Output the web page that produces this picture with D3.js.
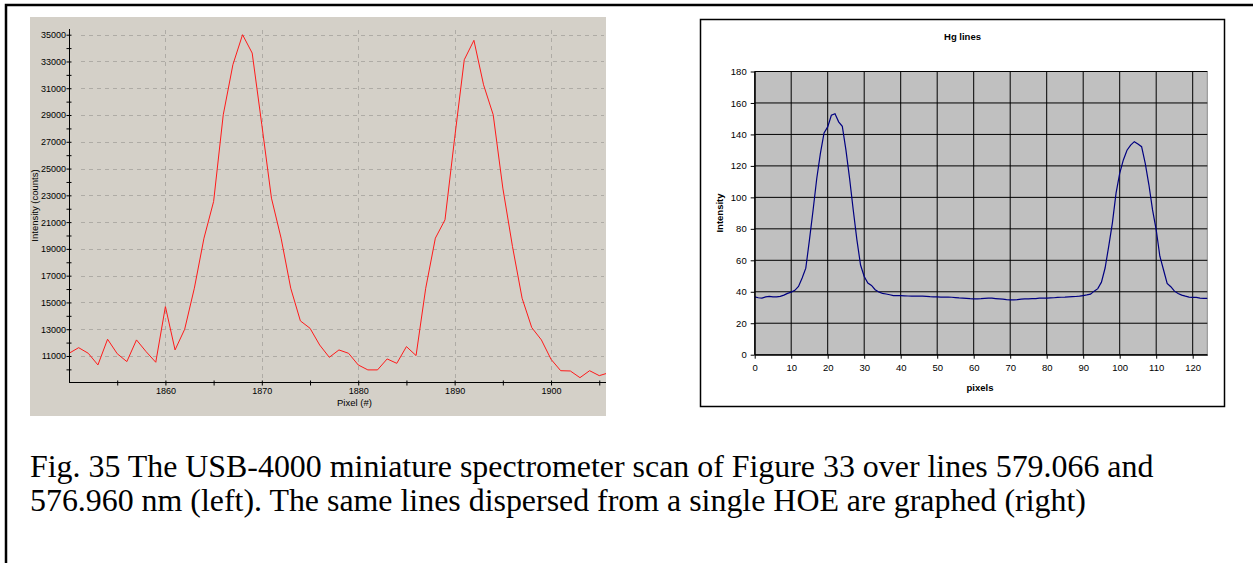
<html>
<head>
    <script src="https://cdn.jsdelivr.net/npm/d3@7"></script>
    <style>
        body { margin: 0; background: #fff; }
        .lax text { font-family: "Liberation Sans", Arial, sans-serif; font-size: 9px; fill: #000; }
        .rax text { font-family: "Liberation Sans", Arial, sans-serif; font-size: 9.5px; fill: #000; }
    </style>
</head>
<body>
    <svg class="chart" width="1253" height="563"></svg>

    <script>
      // left panel: USB-4000 scan, one value per pixel from 1850
      var usbPixels = d3.range(1850, 1907);
      var usbCounts = [11200, 11620, 11200, 10330, 12250, 11170, 10580, 12200, 11320, 10530,
                       14690, 11450, 13000, 16060, 19800, 22540, 29020, 32760, 35000, 33630,
                       28270, 22790, 19800, 16060, 13620, 13070, 11820, 10900, 11450, 11200,
                       10330, 9960, 9960, 10780, 10450, 11700, 11030, 16060, 19800, 21170,
                       27270, 33130, 34580, 31260, 29020, 23540, 19180, 15310, 13120, 12200,
                       10750, 9900, 9880, 9380, 9900, 9530, 9750];
      var usbYTicks = [11000, 13000, 15000, 17000, 19000, 21000, 23000, 25000, 27000, 29000, 31000, 33000, 35000];
      var usbYMinor = [10000, 12000, 14000, 16000, 18000, 20000, 22000, 24000, 26000, 28000, 30000, 32000, 34000];
      var usbXTicks = [1860, 1870, 1880, 1890, 1900];
      var usbXMinor = [1855, 1865, 1875, 1885, 1895, 1905];

      // right panel: Hg lines from a single HOE, pixels 0..124
      var hgPixels = d3.range(0, 125);
      var hgIntensity = [36.7, 36.2, 36.0, 36.7, 37.1, 36.7, 36.7, 37.1, 37.9, 39.0,
                         39.8, 40.9, 43.4, 48.7, 55.0, 73, 92, 112, 128, 141,
                         144.8, 152.2, 153.2, 148, 145.2, 130, 112, 92, 73, 57,
                         49.7, 45.5, 44, 41.3, 39.8, 39.0, 38.6, 38.1, 37.5, 37.5,
                         37.5, 37.4, 37.3, 37.2, 37.2, 37.2, 37.2, 37.1, 36.9, 36.8,
                         36.7, 36.6, 36.6, 36.6, 36.5, 36.3, 36.1, 36.0, 35.8, 35.6,
                         35.5, 35.5, 35.6, 35.8, 36.0, 35.9, 35.7, 35.5, 35.3, 35.0,
                         34.9, 34.9, 35.0, 35.3, 35.5, 35.5, 35.6, 35.7, 35.9, 36.0,
                         36.0, 36.1, 36.2, 36.4, 36.5, 36.6, 36.8, 36.9, 37.0, 37.2,
                         37.6, 38.0, 38.5, 40.4, 42.0, 46.1, 55.1, 69, 83.8, 102.7,
                         115.3, 123.8, 130, 133.2, 135.4, 133.9, 132.2, 121.6, 108, 92,
                         79.4, 62.6, 54, 45.3, 43.2, 40.4, 38.9, 37.9, 37.2, 36.6,
                         36.4, 36.4, 36.0, 35.8, 35.8];
      var hgYTicks = [0, 20, 40, 60, 80, 100, 120, 140, 160, 180];
      var hgXTicks = [0, 10, 20, 30, 40, 50, 60, 70, 80, 90, 100, 110, 120];

      var captionLines = [
        "Fig. 35 The USB-4000 miniature spectrometer scan of Figure 33 over lines 579.066 and",
        "576.960 nm (left). The same lines dispersed from a single HOE are graphed (right)"
      ];

      var svg = d3.select("svg");

      // page frame (top and left rules)
      svg.append("path")
        .attr("d", "M6,563 V5 H1253")
        .attr("fill", "none").attr("stroke", "#000").attr("stroke-width", 2.5);

      // ---------- left chart ----------
      svg.append("rect").attr("x", 30).attr("y", 17).attr("width", 576).attr("height", 399)
        .attr("fill", "#d4d0c8");

      var lx = d3.scaleLinear().domain([1850, 1905.7]).range([69, 606]);
      var ly = d3.scaleLinear().domain([9056, 35426]).range([382, 29]);

      var lgrid = svg.append("g").attr("stroke", "#aeaba5").attr("stroke-dasharray", "4,4");
      lgrid.selectAll("line.h").data(usbYTicks).enter().append("line")
        .attr("x1", 81).attr("x2", 604)
        .attr("y1", d => Math.round(ly(d)) + 0.5).attr("y2", d => Math.round(ly(d)) + 0.5);
      lgrid.selectAll("line.v").data(usbXTicks).enter().append("line")
        .attr("x1", d => Math.round(lx(d)) + 0.5).attr("x2", d => Math.round(lx(d)) + 0.5)
        .attr("y1", 30).attr("y2", 380);

      svg.append("clipPath").attr("id", "lclip")
        .append("rect").attr("x", 69).attr("y", 17).attr("width", 537).attr("height", 365);

      var lline = d3.line().x((d, i) => lx(usbPixels[i])).y(d => ly(d));
      svg.append("path").datum(usbCounts)
        .attr("clip-path", "url(#lclip)")
        .attr("d", lline)
        .attr("fill", "none").attr("stroke", "#ff1a1a").attr("stroke-width", 1);

      var lyAxis = svg.append("g").attr("class", "lax").attr("transform", "translate(69.5,0)")
        .call(d3.axisLeft(ly).tickValues(usbYTicks).tickSize(3).tickPadding(0.5).tickFormat(d3.format("d")));
      svg.append("g").attr("class", "lax").attr("transform", "translate(69.5,0)")
        .call(d3.axisLeft(ly).tickValues(usbYMinor).tickSize(3).tickFormat(""))
        .select(".domain").remove();
      svg.selectAll(".lax .tick line").attr("x2", -3).attr("x1", 2).attr("stroke", "#000");
      lyAxis.select(".domain").attr("d", "M0,29V382");

      var lxAxis = svg.append("g").attr("class", "lax").attr("transform", "translate(0,382.5)")
        .call(d3.axisBottom(lx).tickValues(usbXTicks).tickSize(3).tickPadding(2.5).tickFormat(d3.format("d")));
      svg.append("g").attr("class", "lax").attr("transform", "translate(0,382.5)")
        .call(d3.axisBottom(lx).tickValues(usbXMinor).tickSize(3).tickFormat(""))
        .select(".domain").remove();
      svg.selectAll(".lax .tick line").filter(function () { return this.getAttribute("y2"); })
        .attr("y1", -2).attr("y2", 3).attr("stroke", "#000");
      lxAxis.select(".domain").attr("d", "M69,0H606");
      svg.selectAll(".lax .domain").attr("stroke", "#000");

      svg.append("text").attr("x", 337).attr("y", 406)
        .attr("font-family", "Liberation Sans, Arial, sans-serif").attr("font-size", 9.5)
        .text("Pixel (#)");
      svg.append("text")
        .attr("transform", "translate(38,205.5) rotate(-90)")
        .attr("text-anchor", "middle")
        .attr("font-family", "Liberation Sans, Arial, sans-serif").attr("font-size", 9.5)
        .text("Intensity (counts)");

      // ---------- right chart ----------
      svg.append("rect").attr("x", 700.5).attr("y", 19.5).attr("width", 524).attr("height", 387)
        .attr("fill", "#fff").attr("stroke", "#000").attr("stroke-width", 1.5);

      var rx = d3.scaleLinear().domain([0, 124]).range([754.7, 1207.3]);
      var ry = d3.scaleLinear().domain([0, 180]).range([354.7, 71.5]);

      svg.append("rect").attr("x", rx(0)).attr("y", ry(180))
        .attr("width", rx(124) - rx(0)).attr("height", ry(0) - ry(180))
        .attr("fill", "#c0c0c0").attr("stroke", "#8c8c8c").attr("stroke-width", 1);

      var rgrid = svg.append("g").attr("stroke", "#000").attr("stroke-width", 1);
      rgrid.selectAll("line.h").data(hgYTicks).enter().append("line")
        .attr("x1", rx(0)).attr("x2", rx(124))
        .attr("y1", d => ry(d)).attr("y2", d => ry(d));
      rgrid.selectAll("line.v").data(hgXTicks).enter().append("line")
        .attr("x1", d => rx(d)).attr("x2", d => rx(d))
        .attr("y1", ry(180)).attr("y2", ry(0));

      var rline = d3.line().x((d, i) => rx(hgPixels[i])).y(d => ry(d));
      svg.append("path").datum(hgIntensity)
        .attr("d", rline)
        .attr("fill", "none").attr("stroke", "#000080").attr("stroke-width", 1.2);

      var ryAxis = svg.append("g").attr("class", "rax").attr("transform", "translate(" + rx(0) + ",0)")
        .call(d3.axisLeft(ry).tickValues(hgYTicks).tickSize(4).tickPadding(4).tickSizeOuter(0));
      var rxAxis = svg.append("g").attr("class", "rax").attr("transform", "translate(0," + ry(0) + ")")
        .call(d3.axisBottom(rx).tickValues(hgXTicks).tickSize(4).tickPadding(6).tickSizeOuter(0));
      svg.selectAll(".rax .domain, .rax .tick line").attr("stroke", "#000");
      ryAxis.selectAll("text").attr("fill", "#222");
      rxAxis.selectAll("text").attr("fill", "#222");

      svg.append("text").attr("x", 962.5).attr("y", 40).attr("text-anchor", "middle")
        .attr("font-family", "Liberation Sans, Arial, sans-serif").attr("font-size", 9.5)
        .attr("font-weight", "bold").text("Hg lines");
      svg.append("text").attr("x", 980).attr("y", 391).attr("text-anchor", "middle")
        .attr("font-family", "Liberation Sans, Arial, sans-serif").attr("font-size", 9.5)
        .attr("font-weight", "bold").text("pixels");
      svg.append("text")
        .attr("transform", "translate(722.5,213) rotate(-90)")
        .attr("text-anchor", "middle")
        .attr("font-family", "Liberation Sans, Arial, sans-serif").attr("font-size", 9.5)
        .attr("font-weight", "bold").text("Intensity");

      // ---------- caption ----------
      svg.selectAll("text.caption").data(captionLines).enter().append("text")
        .attr("class", "caption")
        .attr("x", 30).attr("y", (d, i) => 476.5 + i * 34)
        .attr("font-family", "Liberation Serif, Times New Roman, serif").attr("font-size", 31.9)
        .text(d => d);
    </script>
</body>
</html>
